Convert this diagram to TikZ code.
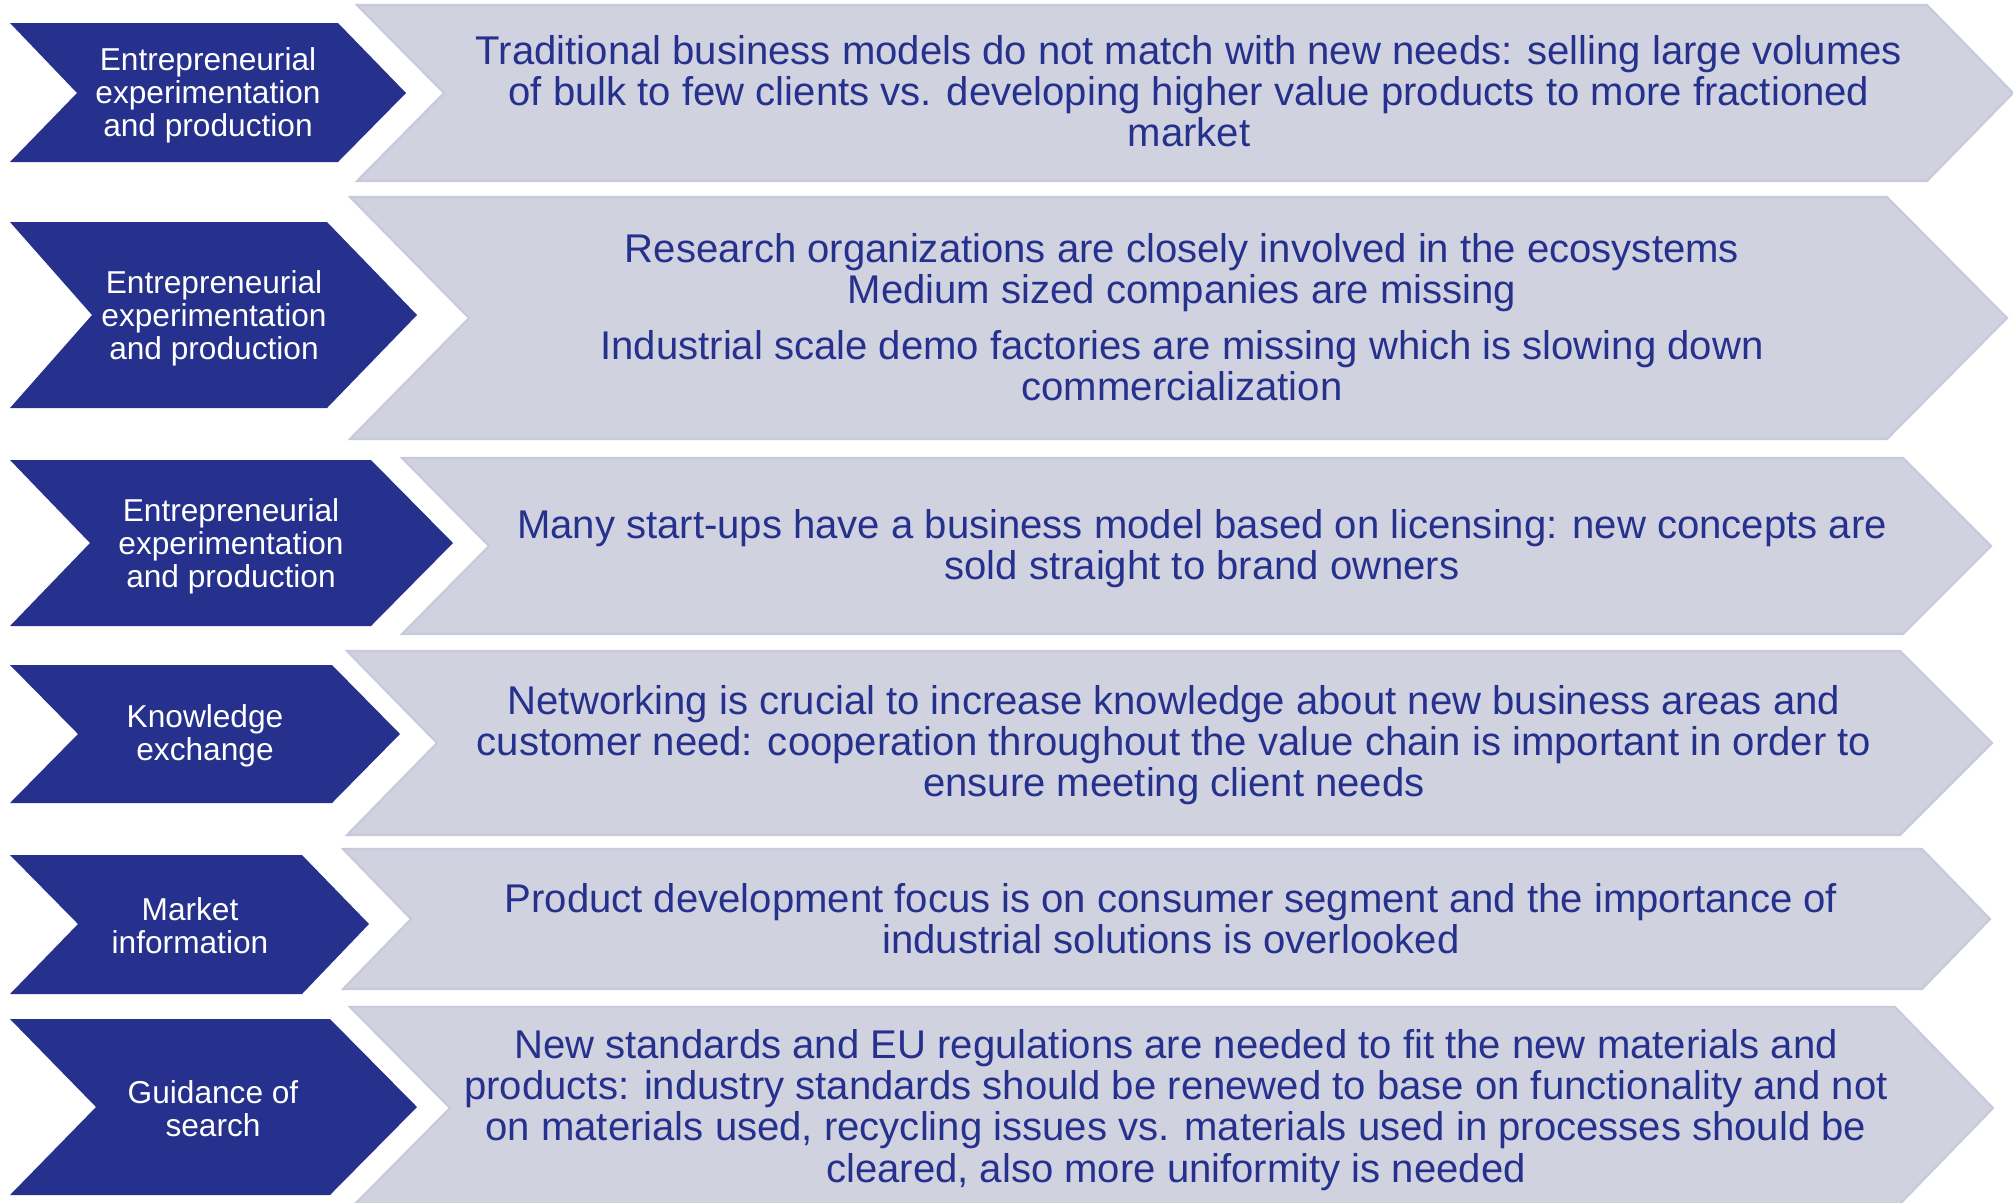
\documentclass[tikz,border=0pt]{standalone}
\usepackage{fontspec}
\setmainfont{Liberation Sans}
\definecolor{navy}{RGB}{37,49,140}
\definecolor{lavgrey}{RGB}{208,210,224}
\definecolor{lavedge}{RGB}{200,202,219}
\begin{document}
\begin{tikzpicture}[x=0.01cm,y=-0.01cm]

      \useasboundingbox (0,0) rectangle (2013,1202);

      \begin{scope}[every path/.style={fill=lavgrey,draw=lavedge,line width=0.6pt}]
        \path (357,5)    -- (1927,5)    -- (2013,93)   -- (1927,181)  -- (357,181)  -- (444,93)   -- cycle;
        \path (350,197)  -- (1887,197)  -- (2007,318)  -- (1887,439)  -- (350,439)  -- (469,318)  -- cycle;
        \path (402,458)  -- (1903,458)  -- (1991,546)  -- (1903,634)  -- (402,634)  -- (489,546)  -- cycle;
        \path (347,651)  -- (1900,651)  -- (1992,743)  -- (1900,835)  -- (347,835)  -- (437,743)  -- cycle;
        \path (343,849)  -- (1922,849)  -- (1990,919)  -- (1922,989)  -- (343,989)  -- (411,919)  -- cycle;
        \path (350,1007) -- (1895,1007) -- (1993,1108) -- (1895,1209) -- (350,1209) -- (450,1108) -- cycle;
      \end{scope}

      \begin{scope}[every path/.style={fill=navy}]
        \path (10,23)   -- (338,23)   -- (406,93)   -- (338,162)  -- (10,162)  -- (77,93)   -- cycle;
        \path (10,222)  -- (327,222)  -- (417,315)  -- (327,408)  -- (10,408)  -- (92,315)  -- cycle;
        \path (10,460)  -- (371,460)  -- (453,543)  -- (371,626)  -- (10,626)  -- (90,543)  -- cycle;
        \path (10,665)  -- (332,665)  -- (400,734)  -- (332,803)  -- (10,803)  -- (78,734)  -- cycle;
        \path (10,855)  -- (302,855)  -- (369,924)  -- (302,994)  -- (10,994)  -- (78,924)  -- cycle;
        \path (10,1019) -- (330,1019) -- (417,1107) -- (330,1195) -- (10,1195) -- (96,1107) -- cycle;
      \end{scope}

      \begin{scope}[every node/.style={align=center,text=white,inner sep=0pt,
          font=\fontsize{9}{9.4}\selectfont}]
        \node (1) at (208,95)   {Entrepreneurial\\experimentation\\and production};
        \node (2) at (214,318)  {Entrepreneurial\\experimentation\\and production};
        \node (3) at (231,546)  {Entrepreneurial\\experimentation\\and production};
        \node (4) at (205,736)  {Knowledge\\exchange};
        \node (5) at (190,926)  {Market\\information};
        \node (6) at (213,1109) {Guidance of\\search};
      \end{scope}

      \begin{scope}[every node/.style={align=center,text=navy,inner sep=0pt,
          font=\fontsize{11.4}{11.7}\selectfont}]
        \node (7)  at (1189,91)   {Traditional business models do not match with new needs: selling large volumes\\
          of bulk to few clients vs. developing higher value products to more fractioned\\ market};
        \node (8)  at (1182,317)  {Research organizations are closely involved in the ecosystems\\
          Medium sized companies are missing\\[4.3pt]
          Industrial scale demo factories are missing which is slowing down\\ commercialization};
        \node (9)  at (1202,549)  {Many start-ups have a business model based on licensing: new concepts are\\
          sold straight to brand owners};
        \node (10) at (1174,745)  {Networking is crucial to increase knowledge about new business areas and\\
          customer need: cooperation throughout the value chain is important in order to\\
          ensure meeting client needs};
        \node (11) at (1171,919)  {Product development focus is on consumer segment and the importance of\\
          industrial solutions is overlooked};
        \node (12) at (1176,1110) {New standards and EU regulations are needed to fit the new materials and\\
          products: industry standards should be renewed to base on functionality and not\\
          on materials used, recycling issues vs. materials used in processes should be\\
          cleared, also more uniformity is needed};
      \end{scope}

    \end{tikzpicture}
\end{document}
